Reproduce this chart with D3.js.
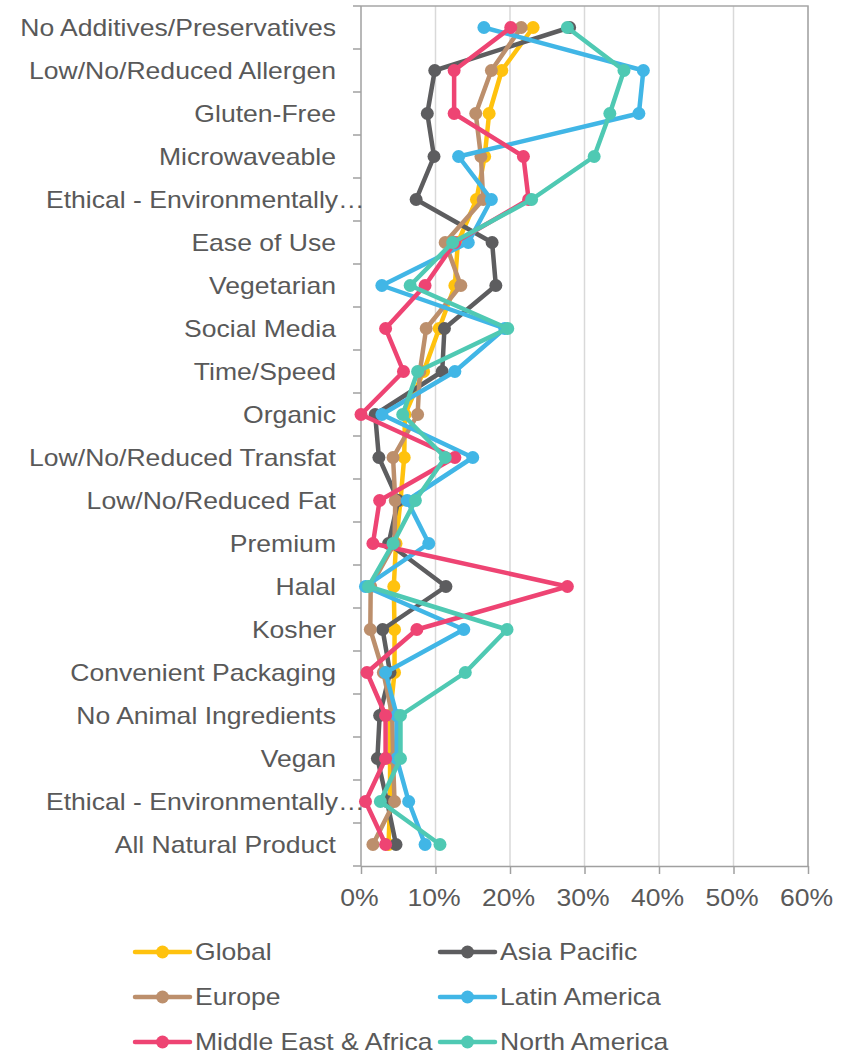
<!DOCTYPE html>
<html>
<head>
<meta charset="utf-8">
<script src="https://cdn.jsdelivr.net/npm/d3@7"></script>
<style>
  html, body { margin: 0; padding: 0; background: #fff; }
  svg { display: block; }
  text { font-family: "Liberation Sans", Arial, sans-serif; fill: #595959; }
</style>
</head>
<body>
<svg id="chart" width="854" height="1057"></svg>
<script>
// Claims / attributes, top to bottom
const categories = [
  "No Additives/Preservatives",
  "Low/No/Reduced Allergen",
  "Gluten-Free",
  "Microwaveable",
  "Ethical - Environmentally Friendly Product",
  "Ease of Use",
  "Vegetarian",
  "Social Media",
  "Time/Speed",
  "Organic",
  "Low/No/Reduced Transfat",
  "Low/No/Reduced Fat",
  "Premium",
  "Halal",
  "Kosher",
  "Convenient Packaging",
  "No Animal Ingredients",
  "Vegan",
  "Ethical - Environmentally Friendly Package",
  "All Natural Product"
];

// Share of launches per region (%), same order as categories
const globalValues       = [23.1, 18.9, 17.2, 16.6, 15.5, 13.0, 12.6, 10.5, 8.4, 5.9, 5.8, 5.3, 4.7, 4.4, 4.5, 4.5, 3.9, 3.9, 3.9, 3.7];
const asiaPacificValues  = [28.0, 9.9, 8.9, 9.8, 7.4, 17.6, 18.1, 11.2, 10.9, 1.9, 2.4, 5.0, 3.7, 11.4, 2.9, 3.9, 2.5, 2.2, 3.5, 4.7];
const europeValues       = [21.5, 17.5, 15.4, 16.1, 16.4, 11.3, 13.4, 8.75, 7.9, 7.6, 4.3, 4.6, 4.5, 1.3, 1.25, 3.0, 4.2, 4.3, 4.5, 1.6];
const latinAmericaValues = [16.5, 37.9, 37.3, 13.1, 17.5, 14.4, 2.8, 19.3, 12.6, 2.8, 15.0, 6.2, 9.1, 0.6, 13.8, 3.3, 4.8, 4.8, 6.4, 8.6];
const meaValues          = [20.1, 12.5, 12.5, 21.8, 22.5, 12.6, 8.6, 3.3, 5.7, 0.0, 12.6, 2.5, 1.6, 27.7, 7.5, 0.8, 3.3, 3.3, 0.6, 3.3];
const northAmericaValues = [27.7, 35.3, 33.4, 31.3, 22.9, 12.3, 6.6, 19.7, 7.6, 5.6, 11.3, 7.3, 4.3, 1.0, 19.6, 14.0, 5.3, 5.3, 2.6, 10.6];

const seriesNames  = ["Global", "Asia Pacific", "Europe", "Latin America", "Middle East & Africa", "North America"];
const seriesColors = ["#FFC20E", "#5D5D5F", "#BC8F6C", "#41B6E6", "#EE4473", "#4FC9B3"];
const seriesValues = [globalValues, asiaPacificValues, europeValues, latinAmericaValues, meaValues, northAmericaValues];

const xTicks = [0, 0.1, 0.2, 0.3, 0.4, 0.5, 0.6];

const FONT_SIZE = "23px";
const STRETCH = 1.155; // horizontal widening of all text

const svg = d3.select("#chart");
const plot = { left: 361, right: 808, top: 6, bottom: 866 };

const x = d3.scaleLinear().domain([0, 0.6]).range([plot.left, plot.right]);
const y = d3.scaleBand().domain(categories).range([plot.top, plot.bottom]).padding(0);
const yc = c => y(c) + y.bandwidth() / 2;

// vertical gridlines
svg.append("g").selectAll("line")
  .data(xTicks.slice(1))
  .join("line")
  .attr("x1", d => x(d)).attr("x2", d => x(d))
  .attr("y1", plot.top).attr("y2", plot.bottom)
  .attr("stroke", "#d9d9d9").attr("stroke-width", 1.5);

// plot frame: top and right edges
svg.append("path")
  .attr("d", `M${plot.left},${plot.top}H${plot.right}V${plot.bottom}`)
  .attr("fill", "none").attr("stroke", "#a6a6a6").attr("stroke-width", 1.5);

// bottom axis
const xAxis = d3.axisBottom(x).tickValues(xTicks).tickFormat(d3.format(".0%")).tickSize(8).tickSizeOuter(0);
const gx = svg.append("g").attr("transform", `translate(0,${plot.bottom})`).call(xAxis);
gx.select(".domain").attr("stroke", "#a0a0a0").attr("stroke-width", 1.5);
gx.selectAll(".tick line").attr("stroke", "#a0a0a0").attr("stroke-width", 1.5);
gx.selectAll(".tick text")
  .attr("y", 0).attr("dy", null)
  .attr("transform", `translate(-2,40) scale(${STRETCH},1)`)
  .style("font-size", FONT_SIZE).style("font-family", "'Liberation Sans', Arial, sans-serif")
  .attr("fill", "#595959");

// left axis line and category boundary ticks
const gy = svg.append("g");
gy.append("line")
  .attr("x1", plot.left).attr("x2", plot.left)
  .attr("y1", plot.top).attr("y2", plot.bottom)
  .attr("stroke", "#a0a0a0").attr("stroke-width", 1.5);
const bounds = categories.map(c => y(c)).concat([y(categories[categories.length - 1]) + y.bandwidth()]);
gy.selectAll("line.tk")
  .data(bounds)
  .join("line").attr("class", "tk")
  .attr("x1", plot.left - 8).attr("x2", plot.left)
  .attr("y1", d => d).attr("y2", d => d)
  .attr("stroke", "#a0a0a0").attr("stroke-width", 1.5);

// category labels; long names are cut with an ellipsis
const maxChars = 26;
gy.selectAll("text")
  .data(categories)
  .join("text")
  .attr("transform", d => `translate(${d.length > maxChars ? 46 : 336},${yc(d) + 8}) scale(${STRETCH},1)`)
  .attr("text-anchor", d => d.length > maxChars ? "start" : "end")
  .style("font-size", FONT_SIZE)
  .text(d => d.length > maxChars ? d.slice(0, 25) + "…" : d);

// series lines and markers
const line = d3.line()
  .x(d => x(d.v / 100))
  .y(d => yc(d.c));

const series = seriesNames.map((name, i) => ({
  name, color: seriesColors[i],
  points: categories.map((c, j) => ({ c, v: seriesValues[i][j] }))
}));

const gs = svg.append("g").selectAll("g").data(series).join("g");
gs.append("path")
  .attr("d", d => line(d.points))
  .attr("fill", "none")
  .attr("stroke", d => d.color)
  .attr("stroke-width", 4.5)
  .attr("stroke-linejoin", "round");
gs.selectAll("circle")
  .data(d => d.points.map(p => ({ ...p, color: d.color })))
  .join("circle")
  .attr("cx", d => x(d.v / 100))
  .attr("cy", d => yc(d.c))
  .attr("r", 6.5)
  .attr("fill", d => d.color);

// legend, two columns
const legendCols = [135, 440];
const legendRows = [952, 997, 1042];
const lg = svg.append("g").selectAll("g").data(series).join("g")
  .attr("transform", (d, i) => `translate(${legendCols[i % 2]},${legendRows[Math.floor(i / 2)]})`);
lg.append("line")
  .attr("x1", 0).attr("x2", 55).attr("y1", 0).attr("y2", 0)
  .attr("stroke", d => d.color).attr("stroke-width", 4.5).attr("stroke-linecap", "round");
lg.append("circle").attr("cx", 27.5).attr("cy", 0).attr("r", 6.5).attr("fill", d => d.color);
lg.append("text")
  .attr("transform", `translate(60,8) scale(${STRETCH},1)`)
  .style("font-size", FONT_SIZE)
  .text(d => d.name);
</script>
</body>
</html>
